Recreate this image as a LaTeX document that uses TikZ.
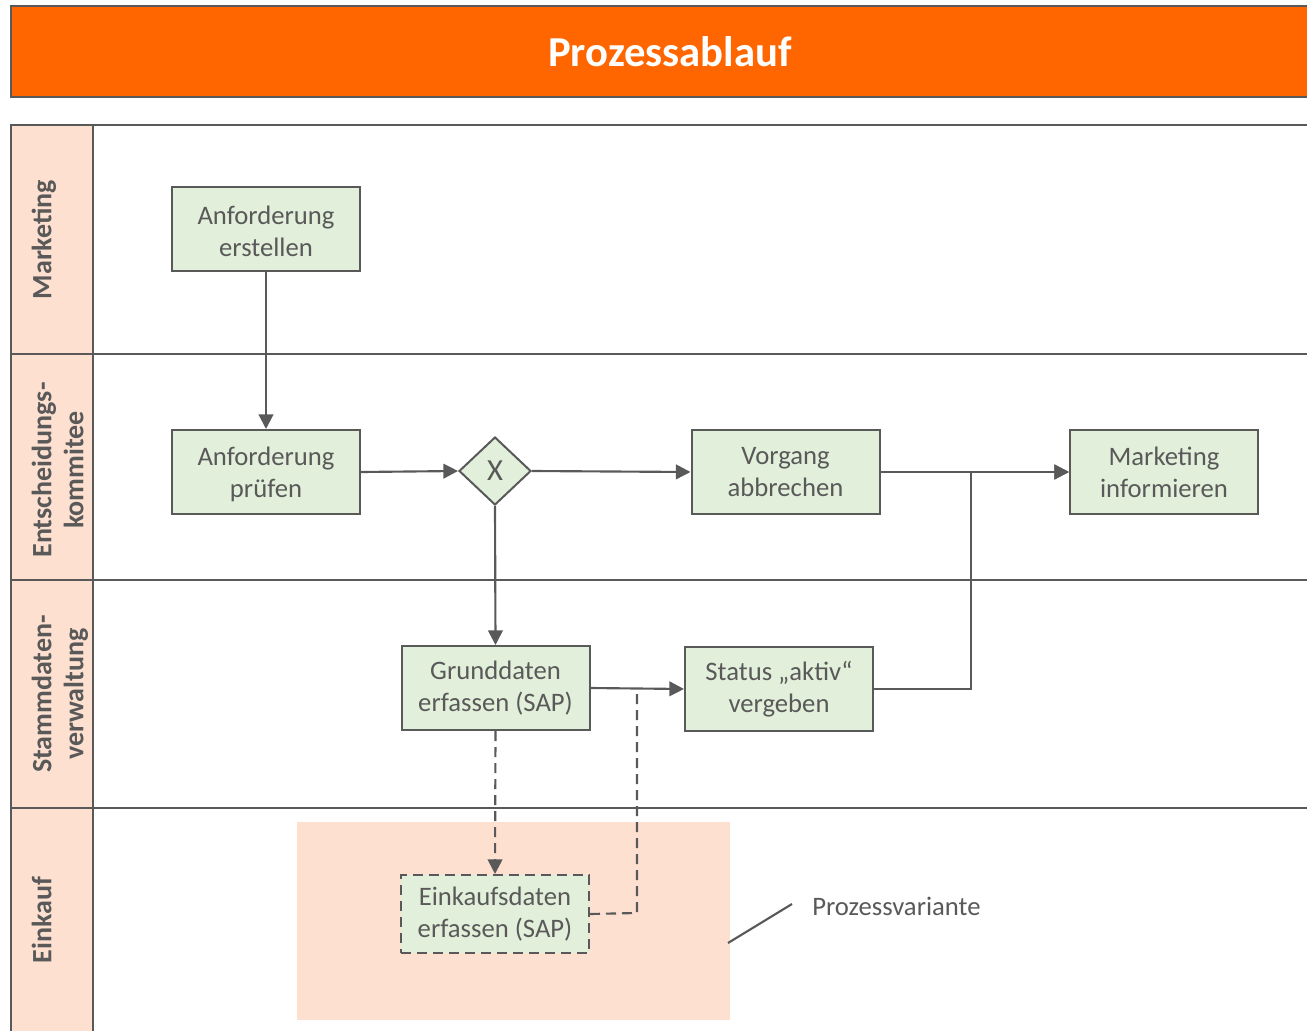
\documentclass[tikz,border=0pt]{standalone}
\usepackage{fontspec}
\setmainfont{Carlito}
\usetikzlibrary{shapes.geometric,arrows.meta}
\definecolor{dg}{HTML}{595959}
\definecolor{org}{HTML}{FF6600}
\definecolor{peach}{HTML}{FDE0D0}
\definecolor{lgreen}{HTML}{E2EFDA}
\begin{document}
\begin{tikzpicture}[x=0.75pt,y=-0.75pt,
  proc/.style={draw=dg, line width=1.5pt, fill=lgreen, text=dg, minimum width=141pt, minimum height=63pt, inner sep=0pt, align=center, font=\fontsize{20}{24}\selectfont},
  gate/.style={shape=diamond, draw=dg, line width=1.5pt, fill=lgreen, text=dg, minimum width=54pt, minimum height=51pt, inner sep=0pt, font=\fontsize{23}{24}\selectfont},
  lanelbl/.style={rotate=90, anchor=north, text=dg, align=center, font=\bfseries\fontsize{21}{24}\selectfont},
  laneline/.style={draw=dg, line width=1.5pt},
  flow/.style={draw=dg, line width=1.6pt, -{Triangle[length=11pt,width=11pt]}},
  dflow/.style={draw=dg, line width=1.6pt, dash pattern=on 7.5pt off 4.5pt, -{Triangle[length=11pt,width=11pt]}},
  dline/.style={draw=dg, line width=1.6pt, dash pattern=on 7.5pt off 4.5pt},
  plain/.style={draw=dg, line width=1.6pt}]
\useasboundingbox (0,0) rectangle (1307,1031);
\clip (0,0) rectangle (1307,1031);
% title
\path[fill=org, draw=dg, line width=1.5pt] (11,6) rectangle (1330,97);
\node[text=white, font=\bfseries\fontsize{32}{36}\selectfont] (title) at (670,52) {Prozessablauf};
% lanes
\fill[peach] (11,125) rectangle (93,1045);
\draw[laneline] (1330,125) -- (11,125) -- (11,1045);
\draw[laneline] (93,125) -- (93,1045);
\draw[laneline] (11,354) -- (1330,354);
\draw[laneline] (11,580) -- (1330,580);
\draw[laneline] (11,808) -- (1330,808);
\node[lanelbl] (l1) at (27,239.5) {Marketing};
\node[lanelbl] (l2) at (27,470) {Entscheidungs-\\kommitee};
\node[lanelbl] (l3) at (27,694) {Stammdaten-\\verwaltung};
\node[lanelbl] (l4) at (27,920) {Einkauf};
% variant area
\fill[peach] (297,822) rectangle (730,1020);
% nodes
\node[proc] (a1) at (266,229) {\strut Anforderung\\erstellen};
\node[proc] (a2) at (266,472) {\strut Anforderung\\prüfen};
\node[gate] (x) at (495,471) {X};
\node[proc] (v) at (785.5,472) {Vorgang\\abbrechen};
\node[proc] (m) at (1164,472) {Marketing\\informieren};
\node[proc] (g) at (495.5,688) {Grunddaten\\erfassen (SAP)};
\node[proc] (s) at (779,689) {Status „aktiv“\\vergeben};
\node[proc, minimum height=58.5pt, dash pattern=on 7.5pt off 4.5pt] (e) at (495,914) {Einkaufsdaten\\erfassen (SAP)};
\node[anchor=west, text=dg, inner sep=0pt, font=\fontsize{20}{24}\selectfont] (pv) at (812,906) {Prozessvariante};
% connectors
\draw[flow] (a1) -- (a2);
\draw[flow] (a2.east) -- (x.west);
\draw[flow] (x.east) -- (v.west);
\draw[flow] (x.south) -- (g.north);
\draw[flow] (v.east) -- (m.west);
\coordinate (j1) at (971,689);
\draw[flow] (s.east) -- (j1) |- (m.west);
\draw[flow] (g.east) -- (s.west);
\draw[dflow] (g.south) -- (e.north);
\coordinate (j2) at (637,913);
\draw[dline] (e.east) -- (j2) -- (j2 |- g.east);
\coordinate (pv0) at (728,943);
\coordinate (pv1) at (792,904);
\draw[plain] (pv0) -- (pv1);
\end{tikzpicture}
\end{document}
